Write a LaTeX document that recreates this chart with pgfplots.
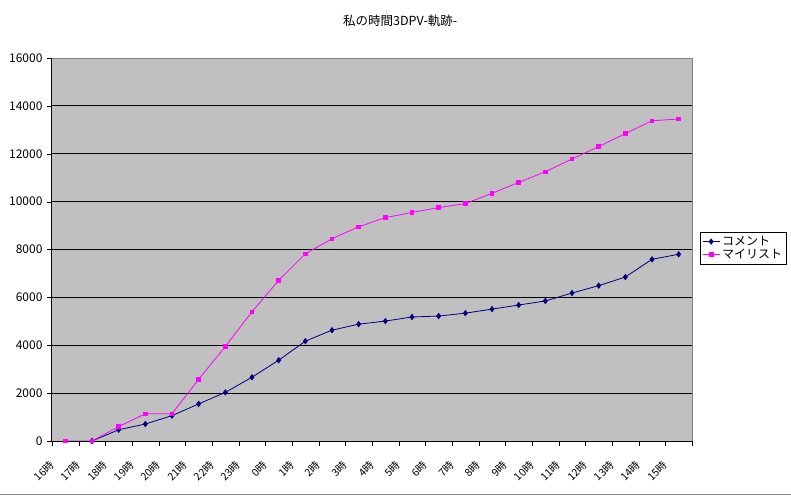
\documentclass[border=0pt]{standalone}
\usepackage{pgfplots}
\pgfplotsset{compat=1.18}
\usepackage{fontspec}
\setmainfont{Noto Sans CJK JP}
\definecolor{bgray}{HTML}{C0C0C0}
\definecolor{navyc}{HTML}{000080}
\definecolor{magc}{HTML}{FF00FF}
\begin{document}
\begin{tikzpicture}[x=1pt,y=1pt]
\path[use as bounding box] (-52,-54) rectangle (739,441);
\draw[color=black!45,line width=1pt] (-52,-53.5) -- (739,-53.5);
\begin{axis}[
  at={(0,0)}, anchor=south west,
  scale only axis, width=640pt, height=383pt,
  xmin=-0.5, xmax=23.5, ymin=0, ymax=16000,
  axis background/.style={fill=bgray},
  axis line style={draw=none},
  xtick pos=bottom, ytick pos=left,
  xtick={0,...,23},
  xticklabels={16時,17時,18時,19時,20時,21時,22時,23時,0時,1時,2時,3時,4時,5時,6時,7時,8時,9時,10時,11時,12時,13時,14時,15時},
  major x tick style={draw=none},
  minor xtick={-0.5,0.5,...,23.5},
  minor x tick style={black},
  minor tick length=5pt,
  xticklabel style={rotate=45, anchor=north east, font=\fontsize{10.5}{12}\selectfont, xshift=-18pt, yshift=6pt},
  ytick={0,2000,...,16000},
  ymajorgrids, grid style={black, line width=0.8pt},
  major tick length=5pt,
  tick align=outside, tick style={black},
  yticklabel style={font=\fontsize{12}{14}\selectfont, xshift=-1pt},
  scaled y ticks=false,
  yticklabel={\pgfmathprintnumber[fixed,1000 sep={}]{\tick}},
  /pgf/number format/assume math mode=true,
  title={私の時間3DPV-軌跡-},
  title style={at={(rel axis cs:0.544,1.082)}, anchor=center, font=\fontsize{12.5}{14}\selectfont},
  legend style={at={(rel axis cs:1.0125,0.5457)}, anchor=north west, draw=black, fill=white, font=\fontsize{12}{14}\selectfont, inner sep=2pt, row sep=-2pt, legend cell align=left},
  clip=false,
]
\addplot[navyc, line width=0.8pt, mark=diamond*, mark size=2.6pt, mark options={fill=navyc}] coordinates {
(1,0) (2,470) (3,710) (4,1060) (5,1550) (6,2030) (7,2665) (8,3375) (9,4170) (10,4630) (11,4880) (12,5010) (13,5180) (14,5220) (15,5340) (16,5510) (17,5680) (18,5850) (19,6180) (20,6490) (21,6850) (22,7590) (23,7800)};
\addlegendentry{コメント}
\addplot[magc, line width=0.8pt, mark=square*, mark size=1.8pt, mark options={fill=magc}] coordinates {
(0,0) (1,0) (2,600) (3,1140) (4,1140) (5,2580) (6,3950) (7,5400) (8,6710) (9,7820) (10,8450) (11,8950) (12,9330) (13,9550) (14,9750) (15,9920) (16,10350) (17,10800) (18,11250) (19,11780) (20,12300) (21,12840) (22,13380) (23,13450)};
\addlegendentry{マイリスト}
\draw[black!50, line width=0.8pt] (rel axis cs:0,1) -- (rel axis cs:1,1) -- (rel axis cs:1,0);
\draw[black, line width=1pt] (rel axis cs:0,1) -- (rel axis cs:0,0) -- (rel axis cs:1,0);
\end{axis}
\end{tikzpicture}
\end{document}
